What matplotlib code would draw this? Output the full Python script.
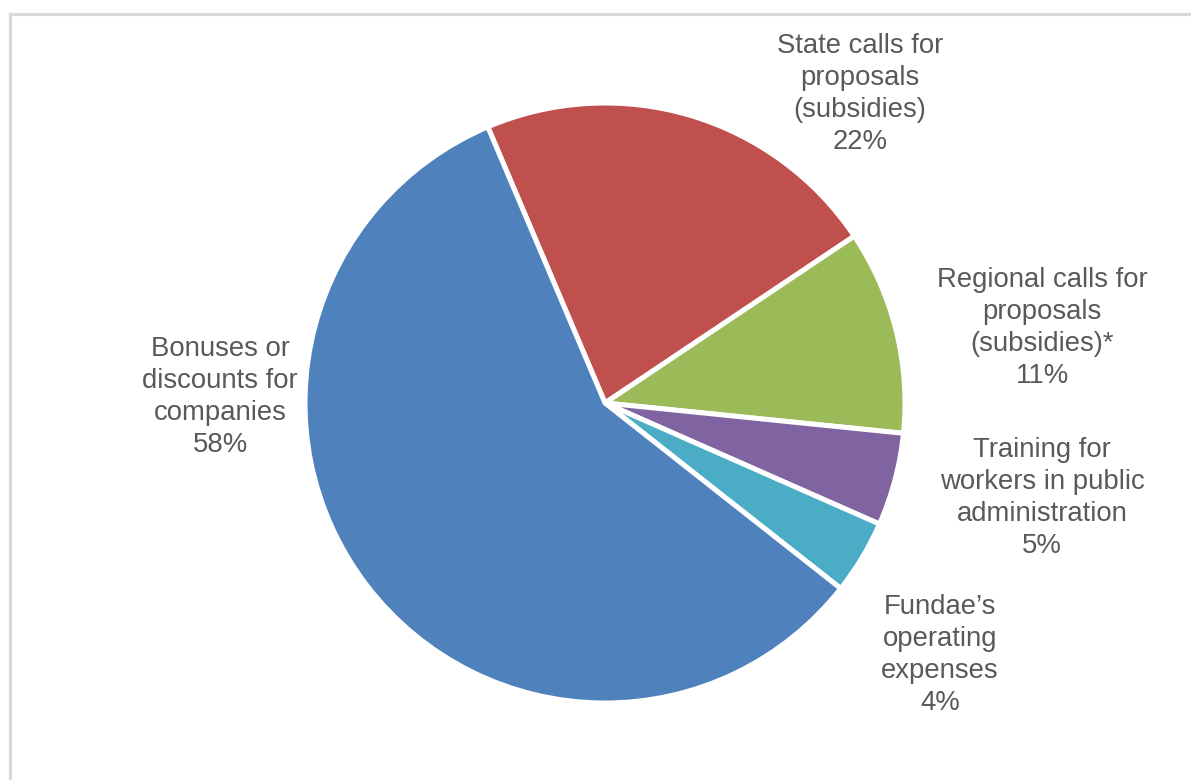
import matplotlib
matplotlib.use("Agg")
import matplotlib.pyplot as plt
from matplotlib.lines import Line2D

# Budget allocation shares (percent), clockwise from the top
categories = [
    "State calls for\nproposals\n(subsidies)",
    "Regional calls for\nproposals\n(subsidies)*",
    "Training for\nworkers in public\nadministration",
    "Fundae\u2019s\noperating\nexpenses",
    "Bonuses or\ndiscounts for\ncompanies",
]
shares = [22, 11, 5, 4, 58]
colors = ["#C0504D", "#9BBB59", "#8064A2", "#4BACC6", "#4F81BD"]

# Label anchor positions, in units of the pie radius
label_pos = [(0.85, 1.03), (1.457, 0.25), (1.457, -0.317), (1.117, -0.84), (-1.283, 0.02)]

W, H, DPI = 1191, 780, 100
fig = plt.figure(figsize=(W / DPI, H / DPI), dpi=DPI)
ax = fig.add_axes([0, 0, 1, 1])

wedges, _ = ax.pie(
    shares,
    colors=colors,
    startangle=113,
    counterclock=False,
    radius=1.0,
    wedgeprops=dict(edgecolor="white", linewidth=3.6),
)

for text, val, (x, y) in zip(categories, shares, label_pos):
    ax.text(x, y, f"{text}\n{val}%", ha="center", va="center",
            fontsize=19.8, color="#595959", family="Liberation Sans",
            linespacing=1.3)

# Axis scale: 300 px per unit radius, pie centre at (605, 403) px
cx, cy, r = 605, 403, 300
ax.set_xlim(-cx / r, (W - cx) / r)
ax.set_ylim(-(H - cy) / r, cy / r)
ax.set_aspect("auto")
ax.axis("off")

# Chart-area frame (top and left edges)
fig.add_artist(Line2D([9.5 / W, 1], [1 - 13.5 / H, 1 - 13.5 / H], color="#D9D9D9",
                      linewidth=2.2, transform=fig.transFigure))
fig.add_artist(Line2D([9.5 / W, 9.5 / W], [0, 1 - 13.5 / H], color="#D9D9D9",
                      linewidth=2.2, transform=fig.transFigure))

fig.savefig("out.png", dpi=DPI, facecolor="white")
